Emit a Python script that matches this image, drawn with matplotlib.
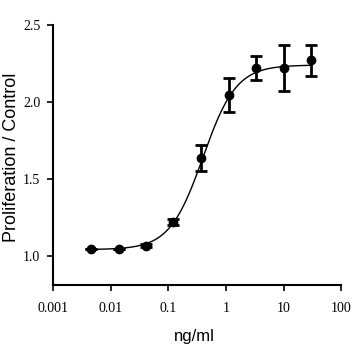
import numpy as np
import matplotlib
matplotlib.use("Agg")
import matplotlib.pyplot as plt

# dados (diluicoes 1:3)
conc = [0.0046, 0.0137, 0.041, 0.123, 0.37, 1.11, 3.33, 10.0, 30.0]
prolif = [1.045, 1.045, 1.065, 1.22, 1.635, 2.045, 2.22, 2.22, 2.27]
erro = [0.0, 0.0, 0.01, 0.02, 0.085, 0.11, 0.08, 0.15, 0.10]

# parametros do ajuste 4PL (curva)
BASE, TOPO, EC50, HILL = 1.04, 2.24, 0.40, 1.5

fig = plt.figure(figsize=(3.58, 3.58), dpi=100)
ax = fig.add_axes([0.148, 0.204, 0.805, 0.726])

xs = np.logspace(np.log10(conc[0]), np.log10(conc[-1]), 200)
ys = BASE + (TOPO - BASE) / (1 + (EC50 / xs) ** HILL)
ax.plot(xs, ys, color="black", lw=1.0)

ax.errorbar(conc, prolif, yerr=erro, fmt="o", color="black", ms=6,
            elinewidth=2, capsize=4, capthick=2)

ax.set_xscale("log")
ax.set_xlim(0.001, 100)
ax.set_ylim(0.81, 2.5)
ax.set_xticks([0.001, 0.01, 0.1, 1, 10, 100])
ax.set_xticklabels(["0.001", "0.01", "0.1", "1", "10", "100"])
ax.set_yticks([1.0, 1.5, 2.0, 2.5])
ax.set_yticklabels(["1.0", "1.5", "2.0", "2.5"])
ax.minorticks_off()
for t in ax.get_xticklabels() + ax.get_yticklabels():
    t.set_family("Liberation Serif")
    t.set_fontsize(10)

ax.spines["top"].set_visible(False)
ax.spines["right"].set_visible(False)
ax.spines["left"].set_linewidth(1.5)
ax.spines["bottom"].set_linewidth(1.5)
ax.tick_params(direction="out", length=4, width=1.2)
ax.tick_params(axis="x", pad=8)
ax.tick_params(axis="y", pad=5)

ax.set_xlabel("ng/ml", family="Liberation Sans", fontsize=12)
ax.set_ylabel("Proliferation / Control", family="Liberation Sans",
              fontsize=13)
ax.xaxis.set_label_coords(0.49, -0.17)
ax.yaxis.set_label_coords(-0.115, 0.49)

fig.savefig("out.png", dpi=100)
